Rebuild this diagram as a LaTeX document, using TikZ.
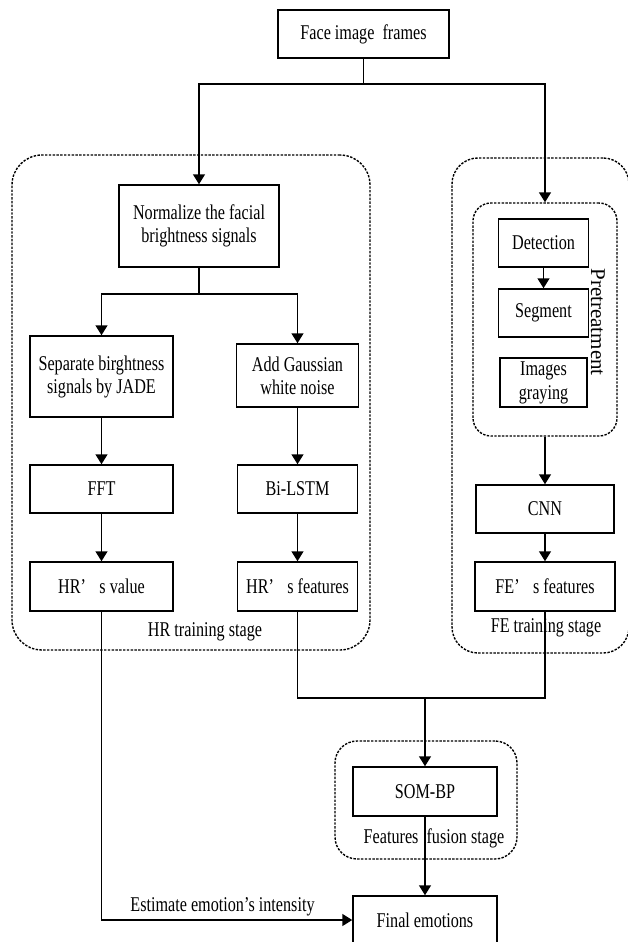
\documentclass[tikz,border=0pt]{standalone}
\usepackage{fontspec}
\setmainfont{Liberation Serif}[FakeStretch=0.77]
\newfontfamily\plainserif{Liberation Serif}
\usetikzlibrary{arrows.meta}

\begin{document}
\begin{tikzpicture}[x=1pt,y=-1pt,
  every node/.style={font=\fontsize{21}{23}\selectfont},
  box/.style={draw, line width=1.5pt, inner sep=1pt, align=center},
  stage/.style={draw, line width=1.4pt, dash pattern=on 2.4pt off 1.4pt, inner sep=0pt},
  link/.style={line width=1.5pt},
  arr/.style={line width=1.5pt, -{Triangle[width=12pt,length=10pt]}},
  lbl/.style={inner sep=0pt}]

\useasboundingbox[fill=white] (0,0) rectangle (627,942);

% dashed stage containers
\node[stage, rounded corners=30pt, minimum width=358pt, minimum height=495pt] (hrstage) at (191,402.5) {};
\node[stage, rounded corners=26pt, minimum width=177pt, minimum height=495pt] (festage) at (540.5,405.5) {};
\node[stage, rounded corners=18pt, minimum width=144pt, minimum height=233pt] (pre) at (545,319.5) {};
\node[stage, rounded corners=22pt, minimum width=182pt, minimum height=118pt] (fusion) at (426,800) {};

% process boxes
\node[box, minimum width=171pt, minimum height=48pt] (face) at (363.5,34) {Face image~~frames};
\node[box, minimum width=160pt, minimum height=82pt] (norm) at (199,226) {Normalize the facial\\brightness signals};
\node[box, minimum width=143pt, minimum height=81pt] (sep) at (101.5,376.5) {Separate birghtness\\signals by JADE};
\node[box, minimum width=122pt, minimum height=63pt] (gauss) at (297.5,375.5) {Add Gaussian\\white noise};
\node[box, minimum width=143pt, minimum height=48pt] (fft) at (101.5,489) {FFT};
\node[box, minimum width=120pt, minimum height=48pt] (bilstm) at (297.5,489) {Bi-LSTM};
\node[box, minimum width=143pt, minimum height=49pt] (hrval) at (101.5,586.5) {HR’\hspace{0.45em} s value};
\node[box, minimum width=120pt, minimum height=49pt] (hrfeat) at (297.5,586.5) {HR’\hspace{0.45em} s features};

\node[box, minimum width=90pt, minimum height=48pt] (det) at (543.5,243) {Detection};
\node[box, minimum width=90pt, minimum height=48pt] (seg) at (543.5,313) {Segment};
\node[box, minimum width=87pt, minimum height=49pt, inner sep=0pt] (gray) at (543.5,382.5) {Images\\[1pt]graying};
\node[box, minimum width=138pt, minimum height=48pt] (cnn) at (545,509) {CNN};
\node[box, minimum width=140pt, minimum height=49pt] (fefeat) at (545,586.5) {FE’\hspace{0.45em} s features};

\node[box, minimum width=144pt, minimum height=49pt] (som) at (425,791.5) {SOM-BP};
\node[box, minimum width=144pt, minimum height=48pt] (final) at (425,920) {Final emotions};

% stage captions
\node[lbl] (hrcap) at (205,632) {HR training stage};
\node[lbl] (fecap) at (546,628) {FE training stage};
\node[lbl] (fucap) at (434,838) {Features~~fusion stage};
\node[lbl, rotate=-90, font=\plainserif\fontsize{21}{23}\selectfont] (precap) at (598,322) {Pretreatment};

% branching points
\coordinate (split) at (363.5,84);
\coordinate (branch) at (199,294);
\coordinate (merge) at (425,698);

% connectors
\draw[link] (face.south) -- (split);
\draw[arr] (split) -| (norm.north);
\draw[arr] (split) -| (pre.north);
\draw[link] (norm.south) -- (branch);
\draw[arr] (branch) -| (sep.north);
\draw[arr] (branch) -| (gauss.north);
\draw[arr] (sep.south) -- (fft.north);
\draw[arr] (gauss.south) -- (bilstm.north);
\draw[arr] (fft.south) -- (hrval.north);
\draw[arr] (bilstm.south) -- (hrfeat.north);

\draw[arr] (det.south) -- (seg.north);
\draw[arr] (pre.south) -- (cnn.north);
\draw[arr] (cnn.south) -- (fefeat.north);

\draw[link] (hrfeat.south) |- (merge) -| (fefeat.south);
\draw[arr] (merge) -- (som.north);
\draw[arr] (som.south) -- (final.north);
\draw[arr] (hrval.south) |- (final.west)
  node[lbl, pos=0.5, above=3pt, xshift=121pt] (estcap) {Estimate emotion’s intensity};

\end{tikzpicture}
\end{document}
